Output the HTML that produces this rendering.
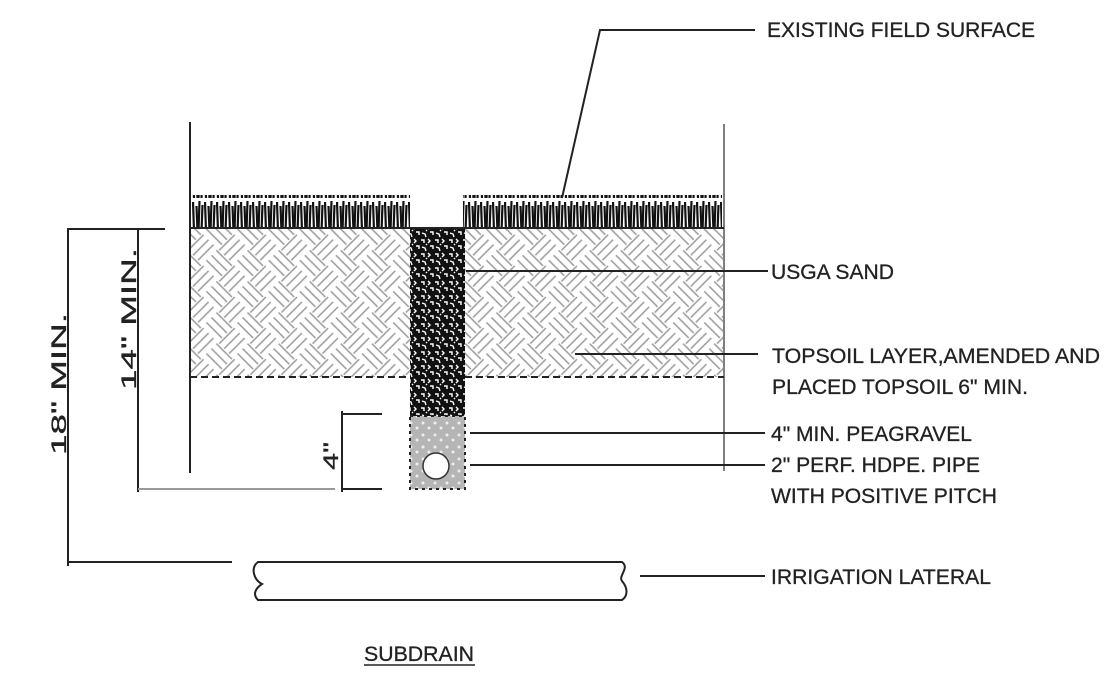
<!DOCTYPE html>
<html><head><meta charset="utf-8"><style>
html,body{margin:0;padding:0;background:#fff;width:1120px;height:694px;overflow:hidden}
text{font-family:"Liberation Sans",sans-serif;fill:#222;font-size:21px;stroke:#222;stroke-width:0.3}
</style></head><body>
<svg width="1120" height="694" viewBox="0 0 1120 694" xmlns="http://www.w3.org/2000/svg">
<defs>
<pattern id="weave" width="44" height="44" patternUnits="userSpaceOnUse" patternTransform="rotate(45)">
<g stroke="#9a9a9a" stroke-width="1.5">
<line x1="0" y1="2" x2="22" y2="2"/><line x1="0" y1="9" x2="22" y2="9"/><line x1="0" y1="16" x2="22" y2="16"/>
<line x1="24" y1="0" x2="24" y2="22"/><line x1="31" y1="0" x2="31" y2="22"/><line x1="38" y1="0" x2="38" y2="22"/>
<line x1="2" y1="22" x2="2" y2="44"/><line x1="9" y1="22" x2="9" y2="44"/><line x1="16" y1="22" x2="16" y2="44"/>
<line x1="22" y1="24" x2="44" y2="24"/><line x1="22" y1="31" x2="44" y2="31"/><line x1="22" y1="38" x2="44" y2="38"/>
</g></pattern>
<pattern id="grass" width="12" height="33" patternUnits="userSpaceOnUse">
<g stroke="#111" stroke-width="2.2">
<line x1="1" y1="4" x2="2" y2="33"/><line x1="4.5" y1="8" x2="5.5" y2="33"/><line x1="7.5" y1="3" x2="6.5" y2="33"/><line x1="10.5" y1="7" x2="9.5" y2="33"/>
</g></pattern>
<pattern id="blk" width="14" height="14" patternUnits="userSpaceOnUse">
<rect width="14" height="14" fill="#111"/>
<g stroke="#fff" stroke-width="1.4" fill="none">
<path d="M1 2 l3 0 l0 3"/><path d="M8 1 l2 2 l-2 2"/><path d="M2 9 l3 1 l1 3"/><path d="M10 8 l3 0 l0 3"/><path d="M6 6 l1 1"/>
</g></pattern>
<pattern id="pea" width="12" height="12" patternUnits="userSpaceOnUse">
<rect width="12" height="12" fill="#b5b5b5"/>
<circle cx="3" cy="3" r="1.5" fill="#eee"/><circle cx="9" cy="8" r="1.5" fill="#eee"/>
</pattern>
</defs>

<line x1="190" y1="122" x2="190" y2="473" stroke="#222" stroke-width="2"/>
<line x1="724" y1="124" x2="724" y2="471" stroke="#555" stroke-width="1.5"/>

<rect x="192" y="195" width="218" height="33" fill="url(#grass)"/>
<rect x="463" y="195" width="259" height="33" fill="url(#grass)"/>
<line x1="190" y1="228" x2="724" y2="228" stroke="#222" stroke-width="2"/>

<rect x="191" y="229" width="219" height="148" fill="url(#weave)"/>
<rect x="465" y="229" width="258" height="148" fill="url(#weave)"/>
<line x1="190" y1="377" x2="724" y2="377" stroke="#222" stroke-width="2" stroke-dasharray="7,4"/>

<rect x="410" y="229" width="55" height="187" fill="url(#blk)"/>
<rect x="410" y="416" width="55" height="73" fill="url(#pea)" stroke="#222" stroke-width="2" stroke-dasharray="3,4"/>
<circle cx="436" cy="466" r="13" fill="#fff" stroke="#333" stroke-width="1.5"/>

<g stroke="#222" stroke-width="2">
<line x1="68" y1="228" x2="68" y2="566"/><line x1="68" y1="229" x2="165" y2="229"/><line x1="68" y1="562" x2="232" y2="562"/>
<line x1="138" y1="228" x2="138" y2="492"/>
<line x1="342" y1="411" x2="342" y2="492"/><line x1="342" y1="414" x2="382" y2="414"/><line x1="342" y1="489" x2="382" y2="489"/>
</g>
<line x1="138" y1="489" x2="335" y2="489" stroke="#999" stroke-width="2"/>
<text transform="translate(66,455) rotate(-90)" font-size="36" textLength="142" lengthAdjust="spacingAndGlyphs">18" MIN.</text>
<text transform="translate(136,390) rotate(-90)" font-size="36" textLength="142" lengthAdjust="spacingAndGlyphs">14" MIN.</text>
<text transform="translate(338,470) rotate(-90)" font-size="30" textLength="28" lengthAdjust="spacingAndGlyphs">4"</text>

<g stroke="#222" stroke-width="2" fill="#fff">
<path d="M258 562 L622 562 C630 568 618 576 622 581 C628 588 628 596 622 600 L258 600 C252 594 256 588 262 584 C254 580 250 568 258 562 Z"/>
</g>

<g stroke="#222" stroke-width="2" fill="none">
<polyline points="755,30 600,30 562,198"/>
<line x1="466" y1="271" x2="768" y2="271"/>
<line x1="575" y1="354" x2="758" y2="354"/>
<line x1="470" y1="433" x2="765" y2="433"/>
<line x1="470" y1="465" x2="765" y2="465"/>
<line x1="640" y1="576" x2="765" y2="576"/>
</g>

<text x="767" y="37" textLength="268" lengthAdjust="spacingAndGlyphs">EXISTING FIELD SURFACE</text>
<text x="771" y="279" textLength="123" lengthAdjust="spacingAndGlyphs">USGA SAND</text>
<text x="772" y="363" textLength="328" lengthAdjust="spacingAndGlyphs">TOPSOIL LAYER,AMENDED AND</text>
<text x="772" y="394" textLength="256" lengthAdjust="spacingAndGlyphs">PLACED TOPSOIL 6" MIN.</text>
<text x="771" y="441" textLength="201" lengthAdjust="spacingAndGlyphs">4" MIN. PEAGRAVEL</text>
<text x="771" y="472" textLength="209" lengthAdjust="spacingAndGlyphs">2" PERF. HDPE. PIPE</text>
<text x="771" y="503" textLength="226" lengthAdjust="spacingAndGlyphs">WITH POSITIVE PITCH</text>
<text x="771" y="584" textLength="220" lengthAdjust="spacingAndGlyphs">IRRIGATION LATERAL</text>
<text x="364" y="661" font-size="18" textLength="110" lengthAdjust="spacingAndGlyphs">SUBDRAIN</text>
<line x1="364" y1="665" x2="475" y2="665" stroke="#222" stroke-width="1.5"/>
</svg>
</body></html>
